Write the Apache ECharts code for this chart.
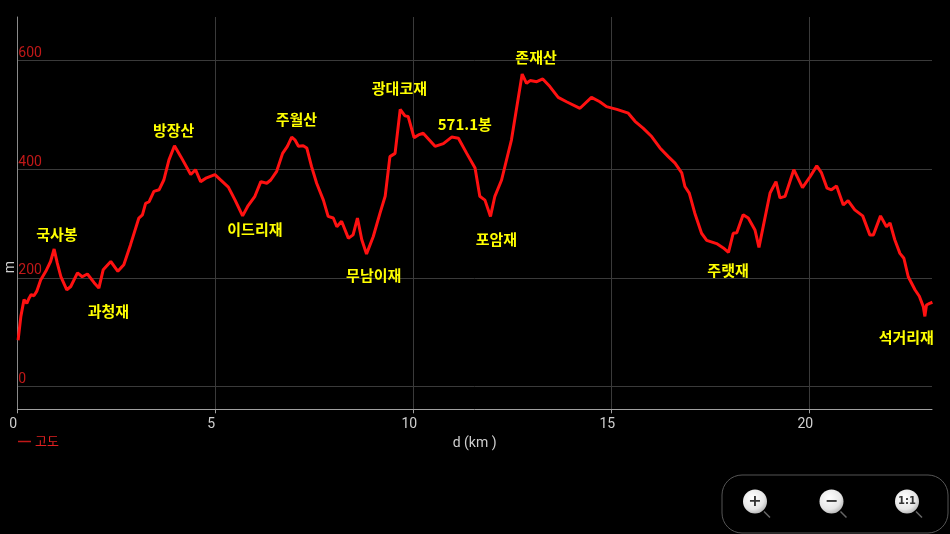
<!DOCTYPE html>
<html>
<head>
<meta charset="utf-8">
<script src="https://cdn.jsdelivr.net/npm/echarts@6/dist/echarts.min.js"></script>
<style>
html,body{margin:0;padding:0;background:#000;}
#c{width:950px;height:534px;}
</style>
</head>
<body>
<div id="c"></div>
<script>
// distance (km) and altitude (m) of the profile
const distKm = [0.02,0.09,0.17,0.24,0.30,0.35,0.42,0.49,0.59,0.72,0.84,0.93,1.01,1.10,1.25,1.35,1.52,1.64,1.77,1.94,2.06,2.17,2.36,2.54,2.69,2.86,3.07,3.16,3.24,3.33,3.45,3.58,3.70,3.83,3.97,4.13,4.38,4.50,4.63,4.78,4.99,5.12,5.33,5.50,5.69,5.83,6.00,6.15,6.30,6.40,6.55,6.70,6.82,6.93,7.01,7.10,7.22,7.31,7.43,7.56,7.73,7.85,7.98,8.07,8.19,8.36,8.48,8.59,8.70,8.82,8.99,9.16,9.29,9.41,9.54,9.67,9.79,9.87,10.02,10.13,10.25,10.55,10.76,10.97,11.14,11.35,11.56,11.68,11.81,11.95,12.06,12.23,12.48,12.75,12.86,12.95,13.12,13.27,13.45,13.66,13.87,14.21,14.50,14.71,14.88,15.14,15.43,15.60,15.81,16.02,16.23,16.44,16.61,16.78,16.86,16.97,17.11,17.28,17.41,17.66,17.83,17.96,18.08,18.17,18.33,18.46,18.63,18.73,19.01,19.16,19.26,19.39,19.61,19.83,20.02,20.19,20.31,20.45,20.56,20.69,20.86,20.98,21.15,21.35,21.53,21.62,21.80,21.95,22.04,22.16,22.29,22.39,22.50,22.67,22.78,22.88,22.92,22.96,23.04,23.11];
const altM = [85,129,160,153,163,169,167,175,196,212,230,253,227,202,178,184,209,202,207,191,181,215,230,212,224,261,310,316,337,340,359,362,380,417,443,423,390,399,377,384,390,381,367,343,314,333,350,377,374,380,396,429,442,459,454,442,443,439,405,374,343,313,310,294,304,273,279,310,270,244,276,319,350,423,429,510,498,497,458,463,466,442,447,459,457,429,402,350,343,313,350,380,454,575,558,563,561,566,552,532,524,512,532,524,515,510,503,488,475,460,439,423,411,393,368,356,319,282,269,263,255,247,282,283,316,310,288,256,356,377,347,350,399,366,386,406,393,365,362,369,334,342,325,314,279,279,314,294,301,270,245,236,202,178,166,147,129,150,153,155];

// place names with their positions in data units
const placeNames = ['국사봉','과청재','방장산','이드리재','주월산','무남이재','광대코재','571.1봉','포암재','존재산','주랫재','석거리재'];
const placeKm = [1.0,2.3,3.95,6.0,7.05,9.0,9.65,11.3,12.1,13.1,17.95,22.45];
const placeM = [281,139,472,290,492,205,549,483,271,605,213,90];

const xTicks = [0,5,10,15,20];
const yTicks = [0,200,400,600];

const lineData = distKm.map((d,i)=>[d,altM[i]]);
const placeData = placeNames.map((n,i)=>({name:n,value:[placeKm[i],placeM[i]]}));

const chart = echarts.init(document.getElementById('c'), null, {renderer:'canvas'});

function btn(cx, cy, sym, font){
  return [
    {type:'line', shape:{x1:cx+9,y1:cy+10,x2:cx+15,y2:cy+16}, style:{stroke:'#666',lineWidth:1.5}},
    {type:'circle', shape:{cx:cx,cy:cy,r:12}, style:{fill:new echarts.graphic.RadialGradient(0.4,0.35,0.8,[{offset:0,color:'#ffffff'},{offset:0.6,color:'#e6e6e6'},{offset:1,color:'#9a9a9a'}])}},
    {type:'text', x:cx, y:cy, style:{text:sym, fill:'#333', font:font, align:'center', verticalAlign:'middle'}}
  ];
}

chart.setOption({
  backgroundColor:'#000',
  animation:false,
  grid:{left:17.3, right:18, top:17, bottom:124.7, containLabel:false},
  legend:{
    data:['고도'], left:13, top:430, icon:'rect', itemWidth:13, itemHeight:1.5, itemGap:4,
    textStyle:{color:'#e02020', fontSize:13, fontFamily:'"Noto Sans CJK KR"', padding:[0,0,0,-1]}
  },
  xAxis:{
    type:'value', min:0, max:23.1, interval:5,
    name:'d (km )', nameLocation:'middle', nameGap:26,
    nameTextStyle:{color:'#cfcfcf', fontSize:14, fontFamily:'Roboto'},
    axisLine:{show:true, onZero:false, lineStyle:{color:'#a0a0a0', width:1}},
    axisTick:{show:true, length:4, customValues:xTicks, lineStyle:{color:'#a0a0a0'}},
    axisLabel:{customValues:xTicks, color:'#cfcfcf', fontSize:14, fontFamily:'Roboto', margin:8, padding:[0,8,0,0]},
    splitLine:{show:true, lineStyle:{color:'#3a3a3a', width:1}}
  },
  yAxis:{
    type:'value', min:-42, max:680,
    axisLine:{show:true, onZero:false, lineStyle:{color:'#8a8a8a', width:1}},
    axisTick:{show:false, customValues:yTicks},
    axisLabel:{customValues:yTicks, inside:true, color:'#c01818', fontSize:14, fontFamily:'Roboto', margin:1, verticalAlign:'bottom', align:'left'},
    splitLine:{show:true, lineStyle:{color:'#3a3a3a', width:1}}
  },
  series:[
    {
      name:'고도', type:'line', data:lineData, showSymbol:false, symbol:'none',
      lineStyle:{color:'#ff1111', width:3}, itemStyle:{color:'#c01818'}, smooth:false, z:3
    },
    {
      name:'places', type:'scatter', data:placeData, symbolSize:1, silent:true, z:4,
      itemStyle:{color:'rgba(0,0,0,0)'},
      label:{show:true, position:'inside', formatter:p=>p.name, color:'#ffff00', opacity:1,
        textBorderWidth:0, fontSize:15, fontWeight:'bold', fontFamily:'"Noto Sans CJK KR"'}
    }
  ],
  graphic:[
    {type:'text', x:10, y:267, rotation:Math.PI/2, style:{text:'m', fill:'#cfcfcf', font:'14px Roboto', align:'center', verticalAlign:'middle'}},
    {type:'rect', shape:{x:722,y:475,width:226,height:58,r:20}, style:{fill:'#000', stroke:'#555', lineWidth:1}},
    ...btn(755,501.5,'+','bold 16px "DejaVu Sans"'),
    ...btn(831.5,501.5,'−','bold 16px "DejaVu Sans"'),
    ...btn(907,501.5,'1:1','bold 10px "DejaVu Sans"')
  ]
});
</script>
</body>
</html>
